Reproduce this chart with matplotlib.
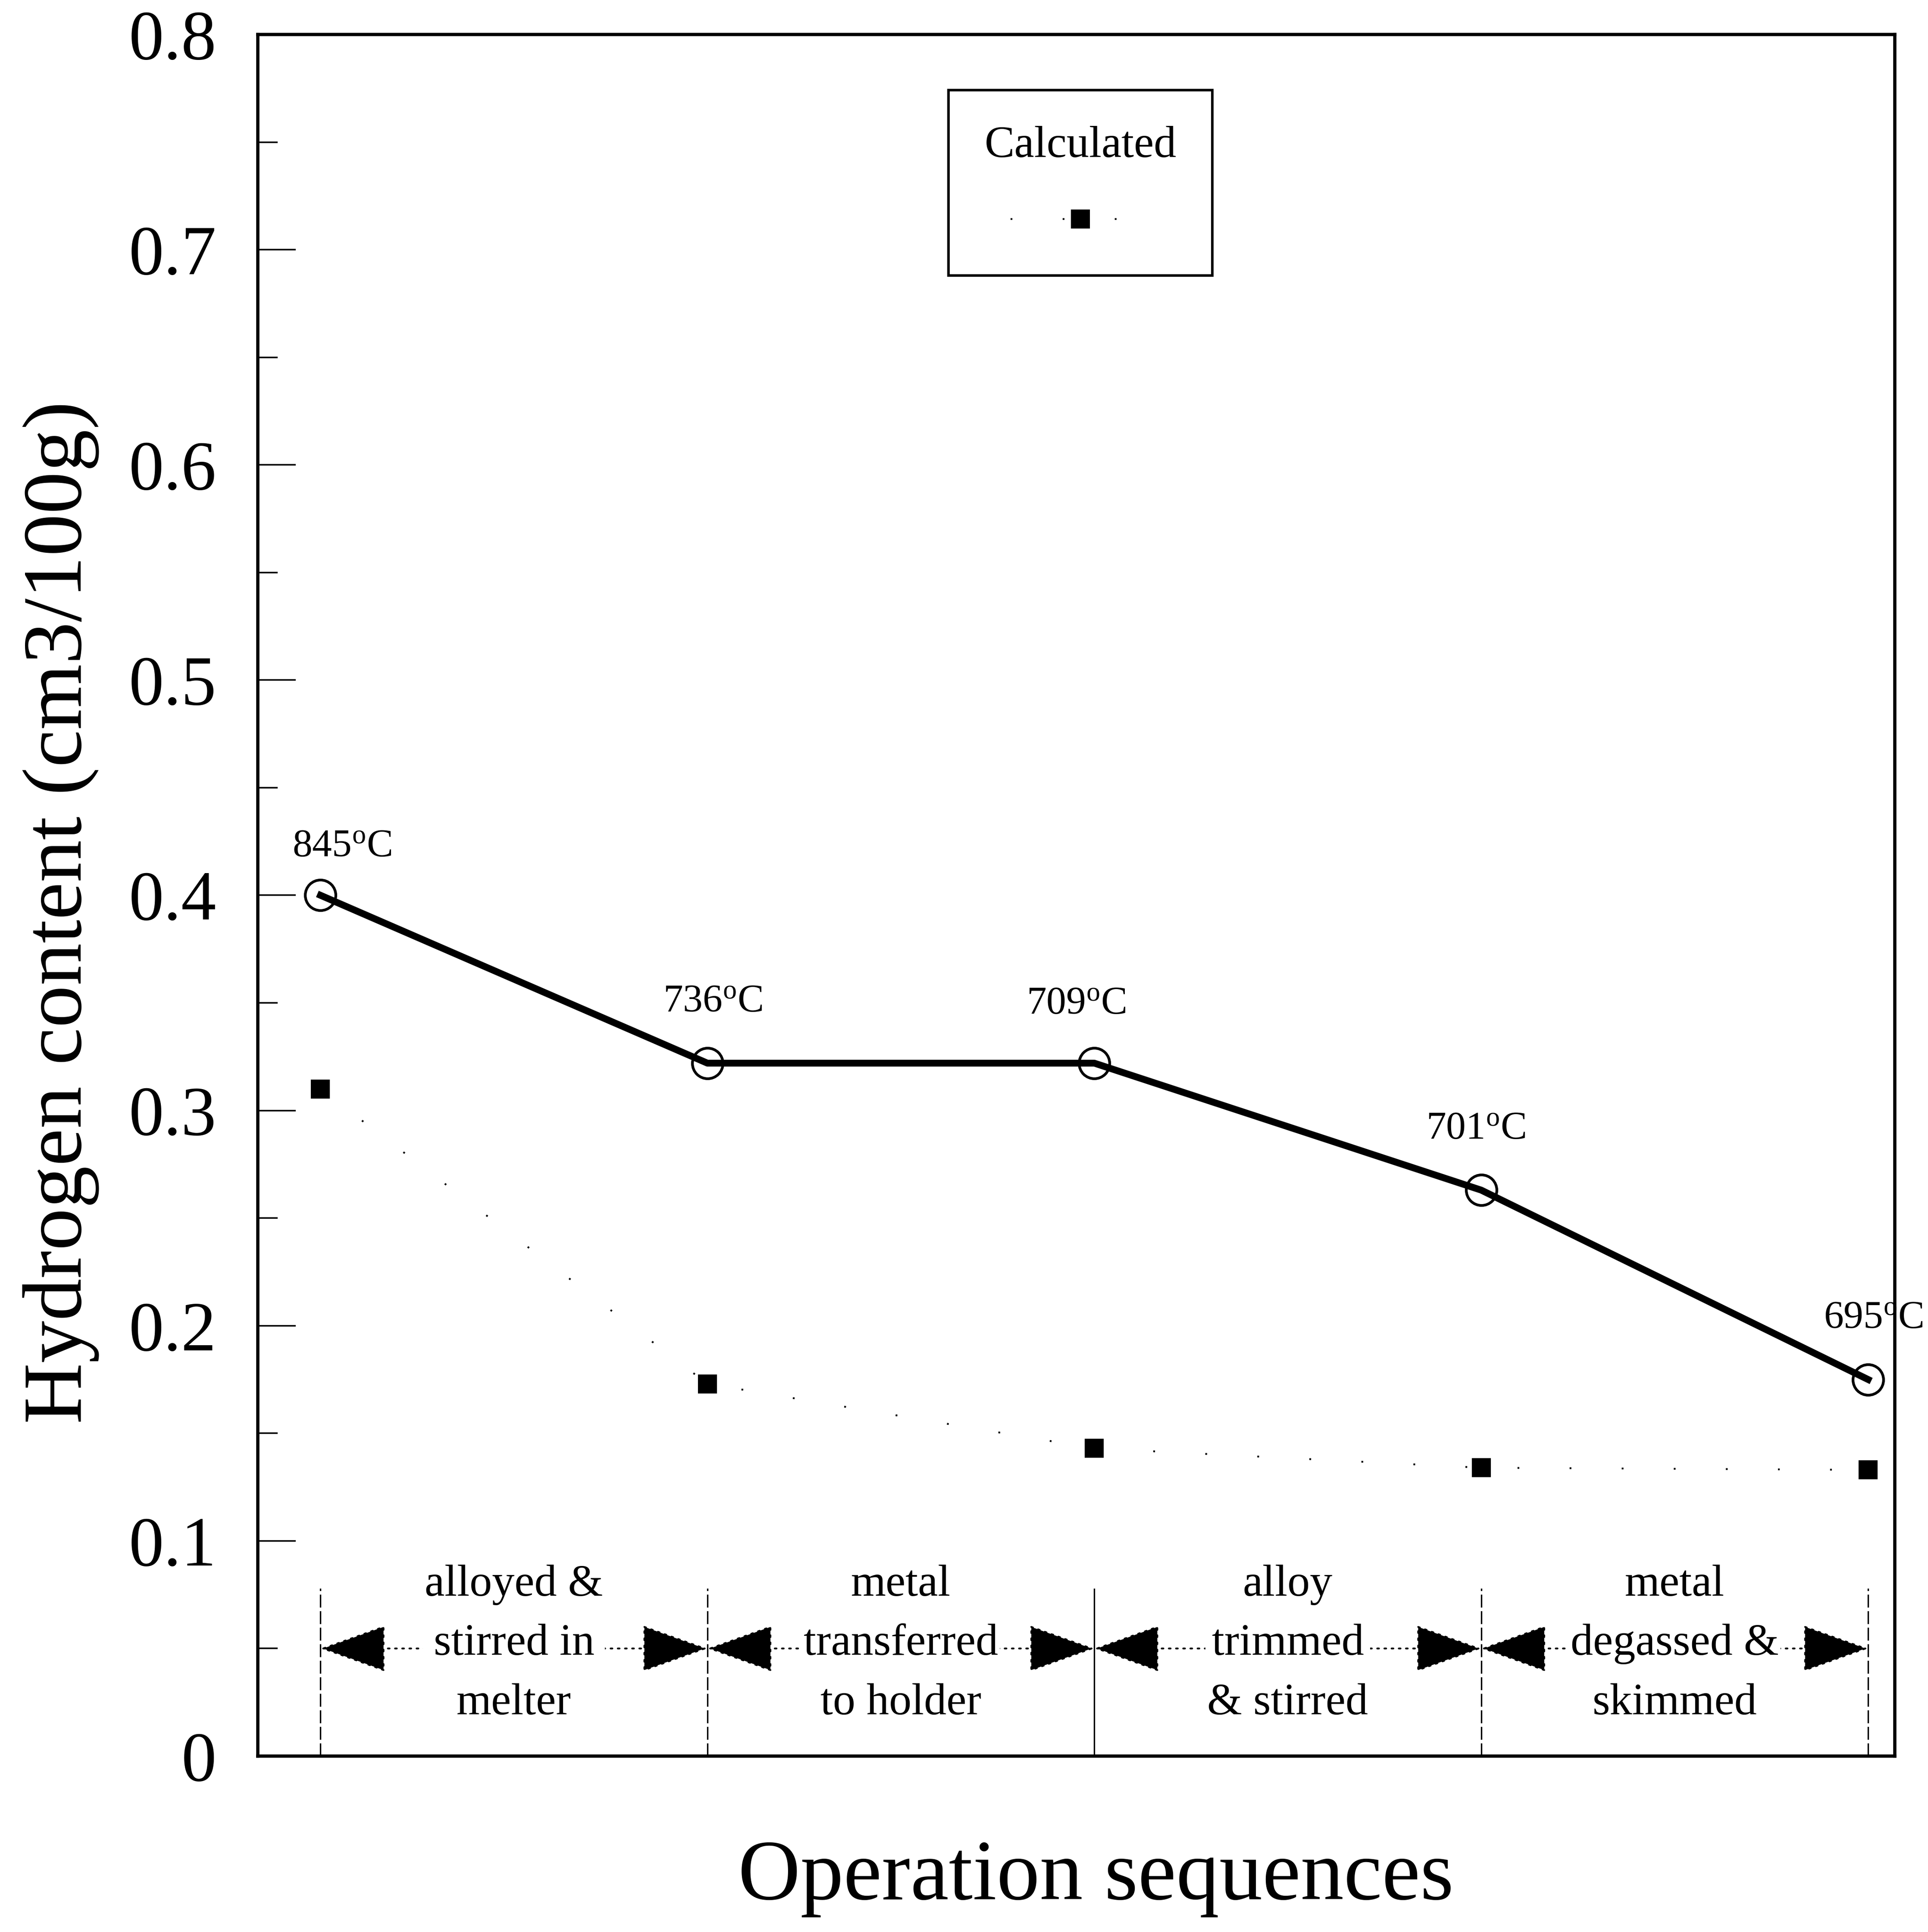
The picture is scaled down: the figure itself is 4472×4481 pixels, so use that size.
import matplotlib
matplotlib.use("Agg")
import matplotlib.pyplot as plt
from matplotlib.ticker import FixedLocator, MultipleLocator

# Operation sequence positions and hydrogen contents (cm3/100g)
sequence = [1, 2, 3, 4, 5]
measured = [0.400, 0.322, 0.322, 0.263, 0.175]
calculated = [0.310, 0.173, 0.143, 0.134, 0.133]
melt_temps = ["845", "736", "709", "701", "695"]
stages = [
    "alloyed &\nstirred in\nmelter",
    "metal\ntransferred\nto holder",
    "alloy\ntrimmed\n& stirred",
    "metal\ndegassed &\nskimmed",
]
y_ticks = [0.0, 0.1, 0.2, 0.3, 0.4, 0.5, 0.6, 0.7, 0.8]
y_tick_labels = ["0", "0.1", "0.2", "0.3", "0.4", "0.5", "0.6", "0.7", "0.8"]

plt.rcParams.update({
    "font.family": ["Liberation Serif", "DejaVu Serif"],
    "mathtext.fontset": "custom",
    "mathtext.rm": "Liberation Serif",
    "mathtext.it": "Liberation Serif:italic",
    "mathtext.bf": "Liberation Serif:bold",
})

fig = plt.figure(figsize=(4472 / 300, 4481 / 300), dpi=300)
ax = fig.add_axes([0.13372, 0.09105, 0.84906, 0.89110])

ax.set_xlim(0.838, 5.069)
ax.set_ylim(0.0, 0.8)

# measured hydrogen content with melt temperatures
ax.plot(sequence, measured, color="black", lw=3.8, marker="o", ms=17,
        mfc="none", mec="black", mew=1.5, zorder=4, label="_nolegend_")

# calculated hydrogen content
calc_line, = ax.plot(sequence, calculated, color="black", lw=1.0,
                     linestyle=(0, (1, 28)), marker="s", ms=9.5,
                     mfc="black", mec="black", zorder=4)

temp_offsets = [(12, 27), (3, 34), (-10, 33), (-3, 34), (3, 34)]
for xv, yv, t, off in zip(sequence, measured, melt_temps, temp_offsets):
    ax.annotate(t + r"$^{\rm o}$C", xy=(xv, yv), xytext=off,
                textcoords="offset points", ha="center", va="center",
                fontsize=22, annotation_clip=False, zorder=5)

# stage boundaries
for xv in sequence:
    ls = "-" if xv == 3 else (0, (9, 2.5))
    ax.vlines(xv, 0.0, 0.078, colors="black", lw=0.8, linestyles=ls, zorder=2)

# stage spans with double-headed arrows and their descriptions
arrow_y = 0.05
for i, txt in enumerate(stages):
    x0, x1 = sequence[i], sequence[i + 1]
    ax.annotate("", xy=(x1, arrow_y), xytext=(x0, arrow_y),
                arrowprops=dict(arrowstyle="<|-|>,head_length=0.84,head_width=0.3",
                                mutation_scale=40, lw=1.0, linestyle=(0, (1, 3)),
                                color="black", shrinkA=0, shrinkB=0),
                zorder=2)
    ax.text((x0 + x1) / 2, arrow_y + 0.002, txt, ha="center", va="center",
            fontsize=25, linespacing=1.6, zorder=3,
            bbox=dict(facecolor="white", edgecolor="none", pad=1))

# axes styling
for sp in ax.spines.values():
    sp.set_linewidth(1.8)
ax.yaxis.set_major_locator(FixedLocator(y_ticks))
ax.set_yticklabels(y_tick_labels)
ax.yaxis.set_minor_locator(MultipleLocator(0.05))
ax.tick_params(axis="y", which="major", direction="in", length=21, width=0.85,
               labelsize=39, pad=23, right=False)
ax.tick_params(axis="y", which="minor", direction="in", length=11, width=0.85,
               right=False)
ax.set_xticks([])

ax.set_ylabel("Hydrogen content (cm3/100g)", fontsize=47)
ax.yaxis.label.set_va("center")
ax.yaxis.set_label_coords(-0.12, 0.49)
ax.set_xlabel("Operation sequences", fontsize=48)
ax.xaxis.label.set_va("center")
ax.xaxis.set_label_coords(0.512, -0.071)

leg = ax.legend(handles=[calc_line], labels=[""], title="Calculated",
                title_fontsize=25, fontsize=25, loc="upper left",
                bbox_to_anchor=(0.4219, 0.9677), borderaxespad=0,
                frameon=True, fancybox=False, framealpha=1, edgecolor="black",
                borderpad=0.8, labelspacing=0.72, handlelength=3.1,
                handleheight=0.0, handletextpad=0, numpoints=1)
leg.get_frame().set_linewidth(1.4)

fig.savefig("out.png", dpi=300)
